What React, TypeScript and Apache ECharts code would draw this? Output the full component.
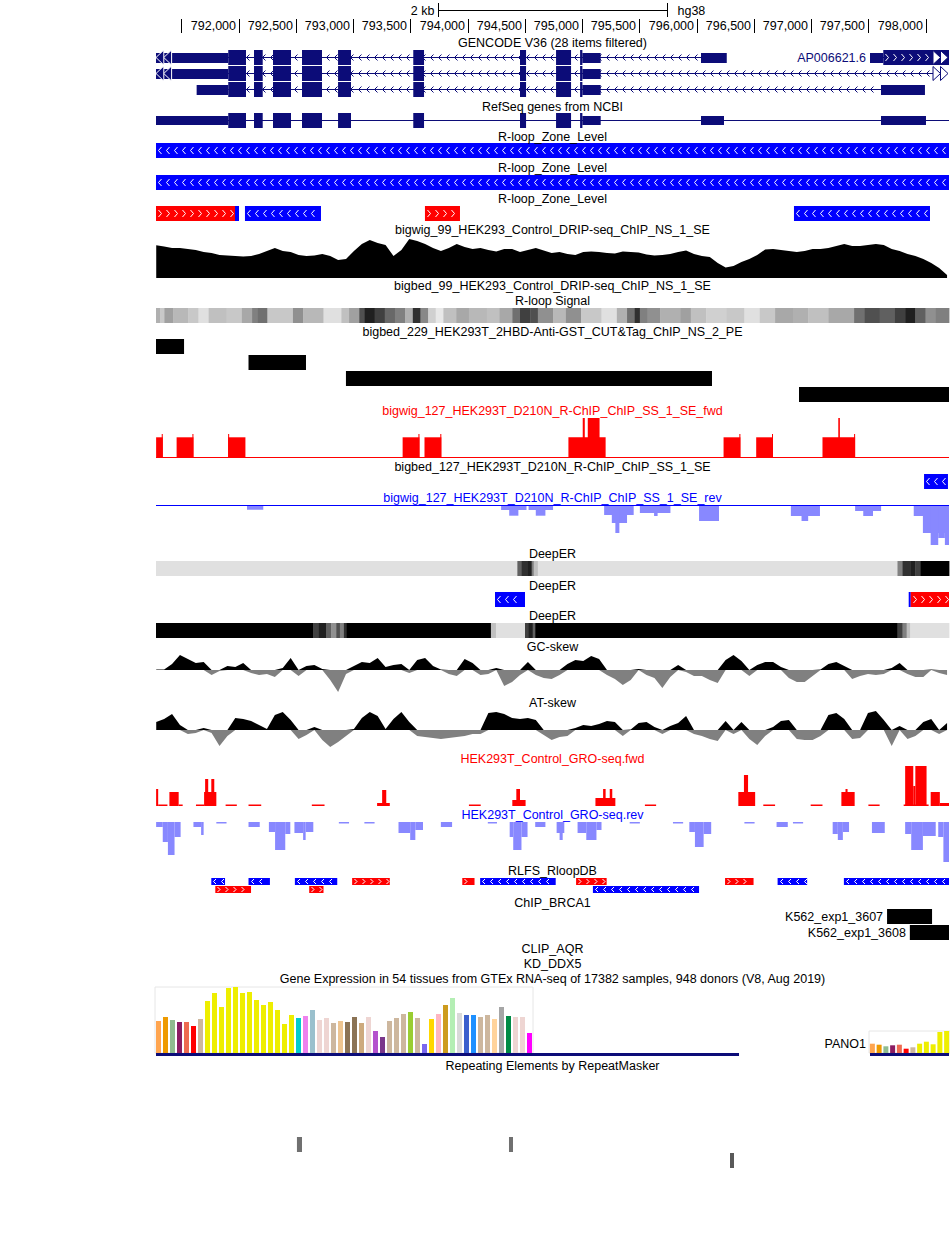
import React, { useEffect, useRef } from "react";
import * as echarts from "echarts";

// ---------------- genomic window (hg38 chr, bp) ----------------
const X_MIN = 791278;
const X_MAX = 798204;

// ---------------- ruler ----------------
const rulerTicks = [791500, 792000, 792500, 793000, 793500, 794000, 794500, 795000, 795500, 796000, 796500, 797000, 797500, 798000];
const rulerLabelTicks = [792000, 792500, 793000, 793500, 794000, 794500, 795000, 795500, 796000, 796500, 797000, 797500, 798000];
const rulerLabels = ["792,000", "792,500", "793,000", "793,500", "794,000", "794,500", "795,000", "795,500", "796,000", "796,500", "797,000", "797,500", "798,000"];
const scaleBarBp = 2000;
const scaleBarLabel = "2 kb";
const assemblyLabel = "hg38";

// ---------------- gene models ----------------
const sharedExons = [
  [791909, 792064], [792134, 792210], [792300, 792457], [792553, 792728], [792868, 792981],
  [793525, 793619], [794457, 794510], [794772, 794903], [794982, 795002],
];
const gencodeTranscripts = [
  { name: "", row: 0, start: 791415, end: 796038, strand: -1, thin: [[791278, 791909], [795002, 795162], [796038, 796263]], thick: sharedExons, clipLeft: true, clipRight: false, thickChevrons: false },
  { name: "", row: 1, start: 791415, end: 798067, strand: -1, thin: [[791278, 791909], [795002, 795162]], thick: sharedExons, clipLeft: true, clipRight: true, thickChevrons: false },
  { name: "", row: 2, start: 791909, end: 797610, strand: -1, thin: [[791633, 791909], [795002, 795162], [797610, 797994]], thick: sharedExons, clipLeft: false, clipRight: false, thickChevrons: false },
  { name: "AP006621.6", row: 0, start: 797514, end: 798204, strand: 1, thin: [[797514, 797630]], thick: [[797630, 798204]], clipLeft: false, clipRight: true, thickChevrons: true },
];
const refseqTranscripts = [
  { name: "", row: 0, start: 791278, end: 798204, strand: 0, thin: [[791278, 791909], [795002, 795162], [796038, 796239], [797610, 798003]], thick: sharedExons, clipLeft: false, clipRight: false, thickChevrons: false },
];

// ---------------- BED-like features: [start, end, row, strand|value] ----------------
const rloopZone1 = [[791278, 798204, 0, -1]];
const rloopZone2 = [[791278, 798204, 0, -1]];
const rloopZone3 = [[791278, 791968, 0, 1], [791968, 792003, 0, -1], [792055, 792719, 0, -1], [793627, 793933, 0, 1], [796850, 798038, 0, -1]];
const cutTag229 = [[791278, 791523, 0, 0], [792086, 792588, 1, 0], [792937, 796134, 2, 0], [796894, 798204, 3, 0]];
const bed127 = [[797986, 798195, 0, -1]];
const deepER2 = [[794239, 794501, 0, -1], [797852, 797870, 0, -1], [797870, 798204, 0, 1]];
const rlfs = [
  [791761, 791881, 0, -1], [792086, 792273, 0, -1], [792491, 792861, 0, -1], [792991, 793320, 0, 1], [793953, 794060, 0, 1],
  [794109, 794769, 0, -1], [794947, 795214, 0, 1], [796248, 796497, 0, 1], [796707, 796965, 0, -1], [797286, 798204, 0, -1],
  [791796, 792108, 1, 1], [792616, 792741, 1, 1], [795094, 796021, 1, -1],
];
const k562Peaks = [[797663, 798056, 0, 0], [797862, 798204, 1, 0]];
const k562Names = ["K562_exp1_3607", "K562_exp1_3608"];
const repeats = [[792509, 792553, 0, 112], [794361, 794396, 0, 112], [796291, 796326, 1, 89]];
const gtexGeneSpans = [[791278, 796370, 0, 0], [797514, 798204, 0, 0]];

// ---------------- density tracks: [start, end, gray] ----------------
const rloopSignal = [
  [791278, 791315, 176], [791315, 791351, 200], [791351, 791427, 160], [791427, 791560, 184], [791560, 791649, 200],
  [791649, 791738, 224], [791738, 791894, 192], [791894, 792028, 200], [792028, 792117, 168], [792117, 792162, 128],
  [792162, 792251, 112], [792251, 792474, 200], [792474, 792563, 144], [792563, 792741, 184], [792741, 792897, 224],
  [792897, 792964, 192], [792964, 793053, 160], [793053, 793098, 80], [793098, 793187, 32], [793187, 793276, 64],
  [793276, 793365, 104], [793365, 793454, 128], [793454, 793521, 176], [793521, 793588, 48], [793588, 793655, 136],
  [793655, 793721, 208], [793721, 793788, 232], [793788, 793900, 192], [793900, 794011, 168], [794011, 794167, 184],
  [794167, 794278, 192], [794278, 794390, 168], [794390, 794457, 112], [794457, 794546, 64], [794546, 794613, 80],
  [794613, 794747, 144], [794747, 794858, 184], [794858, 794991, 144], [794991, 795169, 200], [795169, 795303, 224],
  [795303, 795392, 176], [795392, 795459, 112], [795459, 795504, 48], [795504, 795571, 128], [795571, 795682, 144],
  [795682, 795860, 176], [795860, 795949, 160], [795949, 796083, 192], [796083, 796261, 208], [796261, 796417, 200],
  [796417, 796551, 224], [796551, 796685, 200], [796685, 796841, 168], [796841, 796975, 176], [796975, 797152, 192],
  [797152, 797375, 168], [797375, 797464, 112], [797464, 797598, 80], [797598, 797732, 96], [797732, 797821, 64],
  [797821, 797910, 32], [797910, 797999, 96], [797999, 798088, 144], [798088, 798204, 128],
];
const deepER1 = [
  [791278, 794434, 224], [794434, 794470, 96], [794470, 794523, 48], [794523, 794559, 32], [794559, 794577, 128],
  [794577, 794613, 192], [794613, 797754, 224], [797754, 797798, 128], [797798, 797865, 48], [797865, 797910, 32],
  [797910, 797955, 64], [797955, 798204, 0],
];
const deepER3 = [
  [791278, 792652, 0], [792652, 792696, 64], [792696, 792763, 32], [792763, 792808, 96], [792808, 792852, 144],
  [792852, 792884, 80], [792884, 792919, 128], [792919, 792942, 48], [792942, 794203, 0], [794203, 794247, 192],
  [794247, 794501, 224], [794501, 794532, 64], [794532, 794568, 32], [794568, 794590, 96], [794590, 797754, 0],
  [797754, 797798, 64], [797798, 797834, 128], [797834, 797865, 192], [797865, 798204, 224],
];

// ---------------- wiggle segments: [start, end, value] ----------------
const rchipFwd = [
  [791279, 791337, 19.7], [791328, 791337, 23], [791458, 791605, 19.7], [791596, 791605, 23],
  [791908, 792059, 19.7], [791908, 791917, 23], [793432, 793579, 19.7], [793570, 793579, 23],
  [793623, 793770, 19.7], [793761, 793770, 23], [794880, 795205, 19.7], [795005, 795023, 39], [795049, 795152, 39],
  [796235, 796382, 19.7], [796373, 796382, 23], [796520, 796667, 19.7], [796658, 796667, 23],
  [797099, 797384, 19.7], [797237, 797251, 39], [797375, 797384, 23],
];
const rchipRev = [
  [792073, 792215, 4.7], [794292, 794514, 5], [794363, 794443, 10.7], [794532, 794746, 5], [794595, 794679, 10.7],
  [795192, 795450, 10], [795259, 795392, 18], [795290, 795325, 28], [795504, 795771, 8], [795628, 795659, 11],
  [796021, 796195, 16], [796823, 797077, 11], [796916, 796974, 16], [797384, 797611, 6], [797455, 797540, 11],
  [797896, 798204, 11], [797976, 798204, 28], [798044, 798110, 40], [798110, 798168, 33], [798168, 798204, 40],
];
const groFwd = [
  [791279, 791297, 17], [791297, 791378, 1.5], [791395, 791476, 14], [791476, 791511, 1.5],
  [791627, 791698, 1.5], [791698, 791805, 14], [791707, 791734, 27], [791761, 791787, 27],
  [791886, 791984, 1.5], [792086, 792197, 1.5], [792639, 792750, 1.5],
  [793209, 793320, 3], [793253, 793289, 16], [794011, 794114, 1.5],
  [794390, 794506, 6], [794425, 794457, 17],
  [795116, 795290, 8], [795183, 795205, 17], [795241, 795263, 17], [795548, 795646, 1.5],
  [796364, 796511, 14], [796413, 796449, 31], [796582, 796685, 1.5], [796996, 797099, 1.5],
  [797264, 797380, 14], [797300, 797318, 17], [797500, 797598, 1.5],
  [797808, 798026, 1.5], [797821, 797892, 40], [797892, 797910, 20], [797910, 798008, 40],
  [798044, 798124, 14], [798124, 798204, 3],
];
const groRev = [
  [791279, 791337, 5], [791337, 791382, 20], [791382, 791440, 33], [791440, 791493, 15],
  [791605, 791672, 5], [791672, 791694, 13], [791805, 791894, 1.5], [792086, 792184, 5],
  [792264, 792318, 10], [792318, 792407, 28], [792407, 792451, 12],
  [792487, 792563, 11], [792563, 792585, 18], [792585, 792652, 10],
  [792875, 792964, 1.5], [793098, 793187, 1.5],
  [793396, 793498, 11], [793498, 793543, 18], [793543, 793610, 8], [793766, 793864, 5], [794176, 794256, 1.5],
  [794367, 794398, 15], [794398, 794470, 28], [794470, 794523, 15], [794590, 794679, 5],
  [794777, 794844, 11], [794803, 794830, 18], [794960, 795036, 11], [795036, 795125, 18], [795125, 795169, 8],
  [795415, 795504, 1.5], [795793, 795882, 1.5], [795936, 795985, 10], [795985, 796061, 25], [796061, 796127, 12],
  [796417, 796506, 1.5], [796698, 796796, 5], [796841, 796930, 1.5],
  [797188, 797233, 12], [797233, 797277, 18], [797277, 797331, 10], [797531, 797643, 11],
  [797821, 797874, 12], [797874, 797976, 28], [797976, 798088, 14], [798110, 798155, 15], [798155, 798204, 40],
];

// ---------------- evenly sampled signals ----------------
const SAMPLE_START = 791280;
const SAMPLE_STEP = 69.07;
const dripValues = [
  32.7, 31.5, 30, 30, 29, 28, 26, 25, 23, 22.5,
  22, 21.5, 22, 24, 27, 30, 27, 26, 23, 22,
  22.5, 24, 22, 18, 19, 27, 34, 38, 35, 33,
  22, 28, 39, 37, 34, 30, 27, 30, 34, 31,
  29, 30, 28, 26.5, 29, 29, 26, 28, 30, 27.5,
  25, 26, 24, 23, 26, 26.5, 26, 25, 24.5, 26.5,
  26, 25.5, 23.5, 22.5, 23, 24, 26, 27.5, 24, 22,
  21, 15, 10.5, 12, 16, 19, 23, 28.5, 29, 28,
  27, 26, 27, 29, 29, 30, 32, 34, 32, 32,
  33, 34, 33, 29, 27, 24, 22, 19, 15, 10,
  3,
];
const gcSkewValues = [
  0.5, 0.5, 6, 15, 11, 7, 8, -5, -1, 4,
  3, 7, -3, -5, -4, -7, 2, 12, -6, 4,
  5, 1, -10, -22, -4, 4, 8, 7, 12, 3,
  5, 6, -3, 10, 12, 4, 0.5, -4, -6, 11,
  7, -5, -4, 2, -16, -12, -5, 8, -5, -8,
  -9, -5, 6, 10, 9, 14, 11, -5, -9, -15,
  -10, 1, -5, -8, -18, -7, 5, -2, -6, -6,
  -10, -13, 10, 15, 9, -6, 5, 8, 8, 3,
  -8, -12, -12, -6, 0.5, 6, 8, 4, -9, -6,
  -4, -5, -4, 2, 7, -4, -7, -7, 0.5, -3,
  -5,
];
const atSkewValues = [
  8, 11, 16, 5, -4, -3, 2, -3, -16, -6,
  12, 11, 9, 5, 1, 15, 18, 10, -9, -5,
  3, -10, -17, -12, -6, 1, 12, 18, 14, 1,
  11, 18, 8, -6, -7, -8, -9, -8, -7, -6,
  -4, -4, 17, 18, 16, 12, 11, 12, 10, -5,
  -10, -7, -6, 2, 5, 4, 6, 9, 8, -6,
  0.5, 7, 8, 3, -4, 4, 7, 14, -4, -6,
  -9, -11, 9, -4, 8, -9, -15, -6, 3, 9,
  10, -9, -10, -10, -6, 15, 17, 11, -9, -8,
  17, 19, 10, -16, 4, -9, -6, 8, 11, -4,
  7,
];

// ---------------- GTEx ----------------
const gtexTissues = [
  "Adipose - Subcutaneous", "Adipose - Visceral (Omentum)", "Adrenal Gland", "Artery - Aorta", "Artery - Coronary",
  "Artery - Tibial", "Bladder", "Brain - Amygdala", "Brain - Anterior cingulate cortex (BA24)", "Brain - Caudate (basal ganglia)",
  "Brain - Cerebellar Hemisphere", "Brain - Cerebellum", "Brain - Cortex", "Brain - Frontal Cortex (BA9)", "Brain - Hippocampus",
  "Brain - Hypothalamus", "Brain - Nucleus accumbens (basal ganglia)", "Brain - Putamen (basal ganglia)", "Brain - Spinal cord (cervical c-1)", "Brain - Substantia nigra",
  "Breast - Mammary Tissue", "Cells - EBV-transformed lymphocytes", "Cells - Cultured fibroblasts", "Cervix - Ectocervix", "Cervix - Endocervix",
  "Colon - Sigmoid", "Colon - Transverse", "Esophagus - Gastroesophageal Junction", "Esophagus - Mucosa", "Esophagus - Muscularis",
  "Fallopian Tube", "Heart - Atrial Appendage", "Heart - Left Ventricle", "Kidney - Cortex", "Kidney - Medulla",
  "Liver", "Lung", "Minor Salivary Gland", "Muscle - Skeletal", "Nerve - Tibial",
  "Ovary", "Pancreas", "Pituitary", "Prostate", "Skin - Not Sun Exposed (Suprapubic)",
  "Skin - Sun Exposed (Lower leg)", "Small Intestine - Terminal Ileum", "Spleen", "Stomach", "Testis",
  "Thyroid", "Uterus", "Vagina", "Whole Blood",
];
const gtexColors = [
  "#FFA54F", "#EE9A00", "#8FBC8F", "#8B1C62", "#EE6A50", "#FF0000", "#CDB79E",
  "#EEEE00", "#EEEE00", "#EEEE00", "#EEEE00", "#EEEE00", "#EEEE00", "#EEEE00", "#EEEE00", "#EEEE00", "#EEEE00", "#EEEE00", "#EEEE00", "#EEEE00",
  "#00CDCD", "#EE82EE", "#9AC0CD", "#EED5D2", "#EED5D2", "#CDB79E", "#EEC591", "#8B7355", "#8B7355", "#CDAA7D",
  "#EED5D2", "#B452CD", "#7A378B", "#CDB79E", "#CDB79E", "#CDB79E", "#9ACD32", "#CDB79E", "#7A67EE", "#FFD700",
  "#FFB6C1", "#CD9B1D", "#B4EEB4", "#D9D9D9", "#3A5FCD", "#1E90FF", "#CDB79E", "#CDB79E", "#FFD39B", "#A6A6A6",
  "#008B45", "#EED5D2", "#EED5D2", "#FF00FF",
];
const gtexValues = [
  32, 36, 33, 31, 31, 27, 34,
  52, 60, 46, 65, 66, 60, 61, 53, 48, 51, 43, 29, 38,
  35, 37, 43, 33, 35, 30, 32, 31, 36, 30,
  36, 22, 16, 32, 35, 39, 41, 35, 9, 34,
  39, 48, 55, 40, 38, 38, 36, 38, 34, 46,
  37, 36, 36, 20,
];
const pano1Values = [9.3, 8.3, 6.7, 7.7, 8.3, 4.3, 5.7, 9.3, 11.3, 8.7, 21, 22];
const pano1Label = "PANO1";

// ---------------- styling ----------------
const NAVY = "#0c0c78";
const BLUE = "#0000ff";
const RED = "#ff0000";
const LIGHTBLUE = "#8888ff";
const FONT = "12.5px 'Liberation Sans', Arial, Helvetica, sans-serif";

function textEl(text: string, x: number, y: number, align: string, color = "#000") {
  return {
    type: "text",
    x,
    y,
    silent: true,
    style: { text, fill: color, font: FONT, textAlign: align, textVerticalAlign: "middle", align, verticalAlign: "middle" },
  };
}

function rectEl(x: number, y: number, w: number, h: number, fill: string) {
  return { type: "rect", silent: true, shape: { x, y, width: w, height: h }, style: { fill } };
}

function chevrons(x0: number, x1: number, yc: number, dir: number, hh: number, w: number, color: string) {
  const els: any[] = [];
  for (let x = x0 + 2; x + w <= x1 - 1; x += 8) {
    const xr = Math.round(x) + 0.5;
    const tip = dir < 0 ? xr : xr + w;
    const back = dir < 0 ? xr + w : xr;
    els.push({
      type: "polyline",
      silent: true,
      shape: { points: [[back, yc - hh], [tip, yc], [back, yc + hh]] },
      style: { stroke: color, lineWidth: 1, fill: "none" },
    });
  }
  return els;
}

function geneRenderer(list: any[], thickH: number, thinH: number, introChev: boolean) {
  return (params: any, api: any) => {
    const t = list[params.dataIndex];
    const top = Math.round(api.coord([X_MIN, t.row])[1]);
    const yc = top + thickH / 2;
    const px = (bp: number) => api.coord([bp, t.row])[0];
    const left = px(X_MIN);
    const right = px(X_MAX);
    const els: any[] = [];
    const lx0 = px(t.start);
    const lx1 = px(t.end);
    els.push(rectEl(lx0, yc - 0.5, lx1 - lx0, 1, NAVY));
    if (introChev && t.strand) els.push(...chevrons(lx0, lx1, yc, t.strand, 3, 3, NAVY));
    const thinTop = Math.round(yc - thinH / 2);
    for (const b of t.thin) els.push(rectEl(px(b[0]), thinTop, px(b[1]) - px(b[0]), thinH, NAVY));
    for (const b of t.thick) {
      els.push(rectEl(px(b[0]), top, px(b[1]) - px(b[0]), thickH, NAVY));
      if (t.thickChevrons) {
        const stop = t.clipRight ? Math.min(px(b[1]), right - 16) : px(b[1]);
        els.push(...chevrons(px(b[0]), stop, yc, t.strand, 3.5, 3, "#ffffff"));
      }
    }
    const hh = thickH / 2;
    if (t.clipLeft) {
      for (const off of [0, 7.8]) {
        els.push({
          type: "polygon",
          silent: true,
          shape: { points: [[left + off, yc], [left + off + 7.8, yc - hh], [left + off + 7.8, yc + hh]] },
          style: { fill: NAVY, stroke: "#ffffff", lineWidth: 1 },
        });
      }
    }
    if (t.clipRight) {
      for (const off of [16, 8.5]) {
        els.push({
          type: "polygon",
          silent: true,
          shape: { points: [[right - off, yc - hh + 0.5], [right - off + 7.5, yc], [right - off, yc + hh - 0.5]] },
          style: { fill: "#ffffff", stroke: NAVY, lineWidth: 1 },
        });
      }
    }
    if (t.name) els.push(textEl(t.name, lx0 - 4, yc, "right", NAVY));
    return { type: "group", children: els };
  };
}

function bedRenderer(gap: number, colorOf: (v: number) => string, chevH: number, chevW: number, names?: string[]) {
  return (params: any, api: any) => {
    const s = api.value(0);
    const e = api.value(1);
    const row = api.value(2);
    const v = api.value(3);
    const a = api.coord([s, row]);
    const b = api.coord([e, row + 1]);
    const x = a[0];
    const w = Math.max(1, b[0] - a[0]);
    const y = Math.round(Math.min(a[1], b[1]));
    const h = Math.round(Math.abs(b[1] - a[1])) - gap;
    const els: any[] = [rectEl(x, y, w, h, colorOf(v))];
    if (chevH > 0 && (v === 1 || v === -1) && w > 8) els.push(...chevrons(x, x + w, y + h / 2, v, chevH, chevW, "#ffffff"));
    if (names) els.push(textEl(names[params.dataIndex], x - 4, y + h / 2, "right"));
    return { type: "group", children: els };
  };
}

const strandColor = (v: number) => (v > 0 ? RED : v < 0 ? BLUE : "#000000");

function heatRenderer(params: any, api: any) {
  const s = api.value(0);
  const e = api.value(1);
  const g = api.value(2);
  const a = api.coord([s, 1]);
  const b = api.coord([e, 0]);
  return rectEl(a[0], a[1], b[0] - a[0] + 0.4, b[1] - a[1], `rgb(${g},${g},${g})`);
}

function signalRenderer(color: string) {
  return (params: any, api: any) => {
    const s = api.value(0);
    const e = api.value(1);
    const v = api.value(2);
    const a = api.coord([s, 0]);
    const b = api.coord([e, v]);
    return rectEl(a[0], Math.min(a[1], b[1]), Math.max(1, b[0] - a[0]), Math.abs(b[1] - a[1]), color);
  };
}

function baselineRenderer(color: string) {
  return (params: any, api: any) => {
    const a = api.coord([api.value(0), 0]);
    const b = api.coord([api.value(1), 0]);
    return rectEl(a[0], Math.round(a[1]), b[0] - a[0], 1, color);
  };
}

function buildOption() {
  const grids: any[] = [];
  const xAxes: any[] = [];
  const yAxes: any[] = [];
  const series: any[] = [];

  const addGrid = (top: number, height: number, yMin: number, yMax: number, inverse: boolean) => {
    const idx = grids.length;
    grids.push({ left: 156, width: 793, top, height, show: false });
    xAxes.push({ type: "value", gridIndex: idx, min: X_MIN, max: X_MAX, show: false });
    yAxes.push({ type: "value", gridIndex: idx, min: yMin, max: yMax, inverse, show: false });
    return idx;
  };
  const custom = (g: number, data: any[], renderItem: any, z = 2) => {
    series.push({ type: "custom", xAxisIndex: g, yAxisIndex: g, data, renderItem, silent: true, z, encode: { x: 0, y: data[0] && data[0].length > 2 ? 2 : 1 } });
  };
  const sampled = (vals: number[]) => vals.map((v, i) => [SAMPLE_START + i * SAMPLE_STEP, v]);
  const area = (g: number, vals: number[], color: string) => {
    series.push({
      type: "line", xAxisIndex: g, yAxisIndex: g, data: sampled(vals), showSymbol: false, symbol: "none", silent: true,
      lineStyle: { width: 0, color }, areaStyle: { color, opacity: 1 },
    });
  };

  // ruler
  const gRuler = addGrid(0, 40, 0, 40, true);
  custom(gRuler, rulerTicks.map((t) => [t, 0]), (params: any, api: any) => {
    const p0 = api.coord([api.value(0), 19]);
    const p1 = api.coord([api.value(0), 33]);
    const x = Math.round(p0[0]) + 0.5;
    return { type: "line", silent: true, shape: { x1: x, y1: p0[1], x2: x, y2: p1[1] }, style: { stroke: "#000", lineWidth: 1 } };
  });
  custom(gRuler, rulerLabelTicks.map((t) => [t, 0]), (params: any, api: any) => {
    const p = api.coord([api.value(0), 26]);
    return textEl(rulerLabels[params.dataIndex], Math.round(p[0]) - 3, p[1], "right");
  });
  const mid = (X_MIN + X_MAX) / 2;
  custom(gRuler, [[mid - scaleBarBp / 2, mid + scaleBarBp / 2]], (params: any, api: any) => {
    const a = api.coord([api.value(0), 10]);
    const b = api.coord([api.value(1), 10]);
    const t0 = api.coord([api.value(0), 3])[1];
    const t1 = api.coord([api.value(0), 17])[1];
    const xa = Math.round(a[0]) + 0.5;
    const xb = Math.round(b[0]) + 0.5;
    return {
      type: "group",
      children: [
        { type: "line", silent: true, shape: { x1: xa, y1: a[1] + 0.5, x2: xb, y2: a[1] + 0.5 }, style: { stroke: "#000", lineWidth: 1 } },
        { type: "line", silent: true, shape: { x1: xa, y1: t0, x2: xa, y2: t1 }, style: { stroke: "#000", lineWidth: 1 } },
        { type: "line", silent: true, shape: { x1: xb, y1: t0, x2: xb, y2: t1 }, style: { stroke: "#000", lineWidth: 1 } },
        textEl(scaleBarLabel, xa - 4, a[1] + 0.5, "right"),
        textEl(assemblyLabel, xb + 10, a[1] + 0.5, "left"),
      ],
    };
  });

  // GENCODE + RefSeq
  const gGen = addGrid(50, 48, 0, 3, true);
  custom(gGen, gencodeTranscripts.map((t) => [t.start, t.end, t.row]), geneRenderer(gencodeTranscripts, 15, 10, true));
  const gRef = addGrid(113, 16, 0, 1, true);
  custom(gRef, refseqTranscripts.map((t) => [t.start, t.end, t.row]), geneRenderer(refseqTranscripts, 15, 9, false));

  // R-loop zones
  const gRz1 = addGrid(143, 15, 0, 1, true);
  custom(gRz1, rloopZone1, bedRenderer(0, strandColor, 3.5, 3));
  const gRz2 = addGrid(175, 15, 0, 1, true);
  custom(gRz2, rloopZone2, bedRenderer(0, strandColor, 3.5, 3));
  const gRz3 = addGrid(206, 15, 0, 1, true);
  custom(gRz3, rloopZone3, bedRenderer(0, strandColor, 3.5, 3));

  // DRIP-seq bigwig
  const gDrip = addGrid(238, 40, 0, 40, false);
  area(gDrip, dripValues, "#000000");

  // R-loop signal density
  const gSig = addGrid(308, 15, 0, 1, false);
  custom(gSig, rloopSignal, heatRenderer);

  // CUT&Tag bigbed
  const g229 = addGrid(339, 64, 0, 4, true);
  custom(g229, cutTag229, bedRenderer(1, () => "#000000", 0, 0));

  // R-ChIP fwd
  const gF = addGrid(418, 39, 0, 39, false);
  custom(gF, [[X_MIN, X_MAX, 0]], baselineRenderer(RED));
  custom(gF, rchipFwd, signalRenderer(RED));

  // bigbed 127
  const g127 = addGrid(474, 15, 0, 1, true);
  custom(g127, bed127, bedRenderer(0, strandColor, 3.5, 3));

  // R-ChIP rev
  const gR = addGrid(505, 40, 0, 40, true);
  custom(gR, rchipRev, signalRenderer(LIGHTBLUE));
  custom(gR, [[X_MIN, X_MAX, 0]], baselineRenderer(BLUE), 3);

  // DeepER
  const gD1 = addGrid(561, 15, 0, 1, false);
  custom(gD1, deepER1, heatRenderer);
  const gD2 = addGrid(592, 15, 0, 1, true);
  custom(gD2, deepER2, bedRenderer(0, strandColor, 3.5, 3));
  const gD3 = addGrid(623, 15, 0, 1, false);
  custom(gD3, deepER3, heatRenderer);

  // skews
  const gGC = addGrid(650, 45, -25, 20, false);
  area(gGC, gcSkewValues.map((v) => (v > 0 ? v : 0)), "#000000");
  area(gGC, gcSkewValues.map((v) => (v < 0 ? v : 0)), "#808080");
  const gAT = addGrid(709, 42, -21, 21, false);
  area(gAT, atSkewValues.map((v) => (v > 0 ? v : 0)), "#000000");
  area(gAT, atSkewValues.map((v) => (v < 0 ? v : 0)), "#808080");

  // GRO-seq
  const gGF = addGrid(766, 40, 0, 40, false);
  custom(gGF, groFwd, signalRenderer(RED));
  const gGR = addGrid(822, 40, 0, 40, true);
  custom(gGR, groRev, signalRenderer(LIGHTBLUE));

  // RLFS
  const gRl = addGrid(878, 16, 0, 2, true);
  custom(gRl, rlfs, bedRenderer(1, strandColor, 2.5, 2.5));

  // ChIP BRCA1
  const gK = addGrid(909, 32, 0, 2, true);
  custom(gK, k562Peaks, bedRenderer(1, () => "#000000", 0, 0, k562Names));

  // GTEx gene extent line
  const gGl = addGrid(1053, 3, 0, 1, true);
  custom(gGl, gtexGeneSpans, bedRenderer(0, () => NAVY, 0, 0));

  // Repeats
  const gRep = addGrid(1137, 32, 0, 2, true);
  custom(gRep, repeats, bedRenderer(1, (v: number) => `rgb(${v},${v},${v})`, 0, 0));

  // GTEx bar charts
  const gGtex = grids.length;
  grids.push({ left: 155, width: 378, top: 987, height: 66, show: true, borderColor: "#e6e6e6", borderWidth: 1, backgroundColor: "transparent" });
  xAxes.push({ type: "category", gridIndex: gGtex, data: gtexTissues, show: false });
  yAxes.push({ type: "value", gridIndex: gGtex, min: 0, max: 66, show: false });
  series.push({
    type: "bar", xAxisIndex: gGtex, yAxisIndex: gGtex, barWidth: 5, silent: true, z: 1,
    data: gtexValues.map((v, i) => ({ value: v, itemStyle: { color: gtexColors[i] } })),
  });
  const gPano = grids.length;
  grids.push({ left: 869, width: 84, top: 1031, height: 22, show: true, borderColor: "#e6e6e6", borderWidth: 1, backgroundColor: "transparent" });
  xAxes.push({ type: "category", gridIndex: gPano, data: gtexTissues.slice(0, pano1Values.length), show: false });
  yAxes.push({ type: "value", gridIndex: gPano, min: 0, max: 22, show: false });
  series.push({
    type: "bar", xAxisIndex: gPano, yAxisIndex: gPano, barWidth: 5, silent: true, z: 1,
    data: pano1Values.map((v, i) => ({ value: v, itemStyle: { color: gtexColors[i] } })),
  });

  const CX = 552.5;
  const titles: any[] = [
    ["GENCODE V36 (28 items filtered)", 43, "#000"],
    ["RefSeq genes from NCBI", 107, "#000"],
    ["R-loop_Zone_Level", 137, "#000"],
    ["R-loop_Zone_Level", 168, "#000"],
    ["R-loop_Zone_Level", 199, "#000"],
    ["bigwig_99_HEK293_Control_DRIP-seq_ChIP_NS_1_SE", 230, "#000"],
    ["bigbed_99_HEK293_Control_DRIP-seq_ChIP_NS_1_SE", 286, "#000"],
    ["R-loop Signal", 301, "#000"],
    ["bigbed_229_HEK293T_2HBD-Anti-GST_CUT&Tag_ChIP_NS_2_PE", 332, "#000"],
    ["bigwig_127_HEK293T_D210N_R-ChIP_ChIP_SS_1_SE_fwd", 411, RED],
    ["bigbed_127_HEK293T_D210N_R-ChIP_ChIP_SS_1_SE", 467, "#000"],
    ["bigwig_127_HEK293T_D210N_R-ChIP_ChIP_SS_1_SE_rev", 498, BLUE],
    ["DeepER", 554, "#000"],
    ["DeepER", 586, "#000"],
    ["DeepER", 616, "#000"],
    ["GC-skew", 647, "#000"],
    ["AT-skew", 703, "#000"],
    ["HEK293T_Control_GRO-seq.fwd", 759, RED],
    ["HEK293T_Control_GRO-seq.rev", 815, BLUE],
    ["RLFS_RloopDB", 871, "#000"],
    ["ChIP_BRCA1", 903, "#000"],
    ["CLIP_AQR", 949, "#000"],
    ["KD_DDX5", 964, "#000"],
    ["Gene Expression in 54 tissues from GTEx RNA-seq of 17382 samples, 948 donors (V8, Aug 2019)", 979, "#000"],
    ["Repeating Elements by RepeatMasker", 1066, "#000"],
  ];
  const graphic = titles.map((t) => ({ ...textEl(t[0], CX, t[1], "center", t[2]), z: 100 }));
  graphic.push({ ...textEl(pano1Label, 866, 1044, "right"), z: 100 });

  return {
    animation: false,
    backgroundColor: "#ffffff",
    grid: grids,
    xAxis: xAxes,
    yAxis: yAxes,
    series,
    graphic,
  };
}

export default function App() {
  const ref = useRef<HTMLDivElement | null>(null);
  useEffect(() => {
    if (!ref.current) return;
    const chart = echarts.init(ref.current, undefined, { renderer: "svg" });
    chart.setOption(buildOption() as any);
    return () => chart.dispose();
  }, []);
  return <div ref={ref} style={{ position: "absolute", left: 0, top: 0, width: 950, height: 1233, background: "#fff" }} />;
}
